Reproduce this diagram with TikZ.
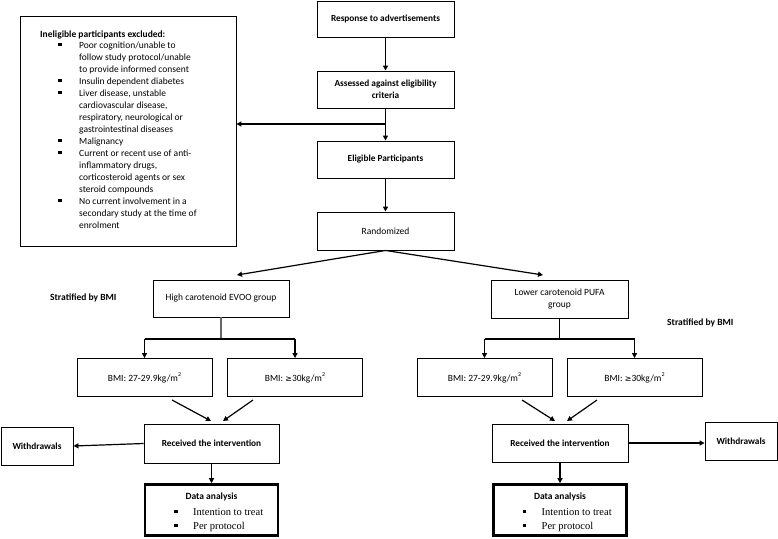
\documentclass[tikz,border=0pt]{standalone}
\usepackage{fontspec}
\setmainfont{Carlito}
\newfontfamily\timesf{Liberation Serif}
\newfontfamily\dejavu{DejaVu Sans}
\usetikzlibrary{arrows.meta,calc}
\newcommand{\sqb}{\rule[0.35ex]{3.5pt}{3.5pt}}
\newcommand{\sqtwo}{\raisebox{5pt}{\fontsize{6}{6}\selectfont 2}}
\newcommand{\geqs}{{\dejavu\fontsize{8}{8}\selectfont ≥}}
\begin{document}
\begin{tikzpicture}[x=1pt,y=-1pt,
  font=\fontsize{9.5}{12}\selectfont,
  box/.style={draw, line width=0.9pt, inner sep=0pt, align=center, minimum width=#1},
  box/.default=137pt,
  thick box/.style={draw, line width=2.6pt, inner sep=0pt, minimum width=133pt, minimum height=51pt},
  arr/.style={-{Triangle[length=5pt,width=5pt]}, line width=1.2pt},
  ln/.style={line width=1.2pt},
  lbl/.style={inner sep=0pt, font=\fontsize{9.5}{12}\selectfont\bfseries}]
\useasboundingbox (0,0) rectangle (778,538);

% top column
\node[box, minimum height=36pt, font=\fontsize{9.3}{12}\selectfont\bfseries] (resp) at (385.5,19) {Response to advertisements};
\node[box, minimum height=37pt, font=\fontsize{9.3}{12}\selectfont\bfseries] (assess) at (385.5,89.5) {Assessed against eligibility\\criteria};
\node[box, minimum height=37pt, font=\fontsize{9.3}{12}\selectfont\bfseries] (elig) at (385.5,159.5) {Eligible Participants};
\node[box, minimum height=38pt] (rand) at (385.5,231) {Randomized};

% exclusion box
\node[draw, line width=0.9pt, minimum width=216pt, minimum height=230pt, inner sep=0pt] (excl) at (128,131) {};
\node[lbl, anchor=base west] (exclh) at (40,37) {Ineligible participants excluded:};
\node[inner sep=0pt, anchor=base west] (excll) at (58,48) {%
\begin{tabular}[t]{@{}p{21pt}@{}l@{}}
\sqb & Poor cognition/unable to\\
 & follow study protocol/unable\\
 & to provide informed consent\\
\sqb & Insulin dependent diabetes\\
\sqb & Liver disease, unstable\\
 & cardiovascular disease,\\
 & respiratory, neurological or\\
 & gastrointestinal diseases\\
\sqb & Malignancy\\
\sqb & Current or recent use of anti-\\
 & inflammatory drugs,\\
 & corticosteroid agents or sex\\
 & steroid compounds\\
\sqb & No current involvement in a\\
 & secondary study at the time of\\
 & enrolment
\end{tabular}};

% group boxes
\node[box=136pt, minimum height=37pt] (high) at (221,298.5) {High carotenoid EVOO group};
\node[box, minimum height=38pt] (lower) at (559.5,299) {Lower carotenoid PUFA\\group};
\node[lbl, anchor=base west] (stratL) at (50,300) {Stratified by BMI};
\node[lbl, anchor=base west] (stratR) at (667,325) {Stratified by BMI};

% BMI boxes
\node[box=135pt, minimum height=38pt] (bmiA) at (144.5,377.5) {BMI: 27-29.9kg/m\sqtwo};
\node[box=135pt, minimum height=38pt] (bmiB) at (295,377.5) {BMI: \geqs30kg/m\sqtwo};
\node[box=135pt, minimum height=38pt] (bmiC) at (484.5,377.5) {BMI: 27-29.9kg/m\sqtwo};
\node[box=135pt, minimum height=38pt] (bmiD) at (634.5,377.5) {BMI: \geqs30kg/m\sqtwo};

% received / withdrawals
\node[box=135pt, minimum height=39pt, font=\fontsize{9.3}{12}\selectfont\bfseries] (recvL) at (211.5,443.5) {Received the intervention};
\node[box=72pt, minimum height=38pt, font=\fontsize{9.3}{12}\selectfont\bfseries] (withL) at (37,446) {Withdrawals};
\node[box=136pt, minimum height=38pt, font=\fontsize{9.3}{12}\selectfont\bfseries] (recvR) at (560,443) {Received the intervention};
\node[box=72pt, minimum height=38pt, font=\fontsize{9.3}{12}\selectfont\bfseries] (withR) at (741,441) {Withdrawals};

% data analysis
\node[thick box] (dataL) at (211.5,510) {};
\node[lbl, anchor=base] (dataLh) at (211.5,499) {Data analysis};
\node[inner sep=0pt, anchor=base west, font=\timesf\fontsize{10.5}{14}\selectfont] (dataLl) at (174,515) {%
\begin{tabular}[t]{@{}p{19pt}@{}l@{}}
\sqb & Intention to treat\\
\sqb & Per protocol
\end{tabular}};
\node[thick box] (dataR) at (560,510) {};
\node[lbl, anchor=base] (dataRh) at (560,499) {Data analysis};
\node[inner sep=0pt, anchor=base west, font=\timesf\fontsize{10.5}{14}\selectfont] (dataRl) at (522.5,515) {%
\begin{tabular}[t]{@{}p{19pt}@{}l@{}}
\sqb & Intention to treat\\
\sqb & Per protocol
\end{tabular}};

% coordinates
\coordinate (jx) at (385.5,124);
\coordinate (randL) at (237,275);
\coordinate (randR) at (543,275);
\coordinate (jl) at (221,339);
\coordinate (jr) at (559.5,339);
\coordinate (a1s) at (172,400);
\coordinate (a1e) at (211,421);
\coordinate (a2s) at (253,400);
\coordinate (a2e) at (223,421);
\coordinate (a3s) at (522,400);
\coordinate (a3e) at (555,421);
\coordinate (a4s) at (597,400);
\coordinate (a4e) at (567,421);

% connectors
\draw[arr] (resp) -- (assess);
\draw[arr] (assess) -- (elig);
\draw[arr] (jx) -- (jx -| excl.east);
\draw[arr] (elig) -- (rand);
\draw[arr] (rand.south) -- (randL);
\draw[arr] (rand.south) -- (randR);
\draw[ln, draw=black!60] (high.south) -- (jl);
\draw[ln] (jl -| bmiA.north) -- (jl -| bmiB.north);
\draw[arr] (jl -| bmiA.north) -- (bmiA.north);
\draw[arr] (jl -| bmiB.north) -- (bmiB.north);
\draw[ln] (lower.south) -- (jr);
\draw[ln] (jr -| bmiC.north) -- (jr -| bmiD.north);
\draw[arr] (jr -| bmiC.north) -- (bmiC.north);
\draw[arr] (jr -| bmiD.north) -- (bmiD.north);
\draw[arr] (a1s) -- (a1e);
\draw[arr] (a2s) -- (a2e);
\draw[arr] (a3s) -- (a3e);
\draw[arr] (a4s) -- (a4e);
\draw[arr] (recvL.west) -- (withL.east);
\draw[arr] (recvR.east) -- (recvR.east -| withR.west);
\draw[arr] (recvL.south) -- (dataL.north);
\draw[arr] (recvR.south) -- (dataR.north);
\end{tikzpicture}
\end{document}
